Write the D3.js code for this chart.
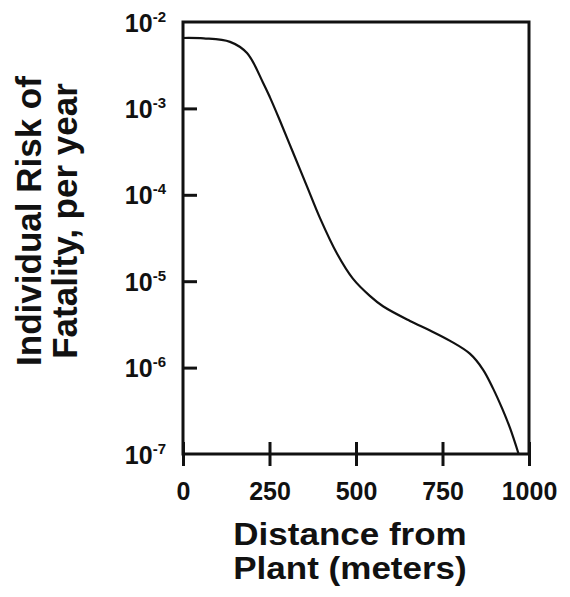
<!DOCTYPE html>
<html>
<head>
<meta charset="utf-8">
<script src="https://cdn.jsdelivr.net/npm/d3@7"></script>
<style>
  body { margin: 0; background: #fff; }
  text { font-family: "Liberation Sans", Arial, sans-serif; font-weight: bold; fill: #111; }
</style>
</head>
<body>
<script>
// values
var distance = [0, 60, 136, 185, 231, 251, 280, 318, 358, 396, 445, 491, 540, 578, 656, 714, 772, 829, 867, 896, 922, 945, 970]
var risk = [6.53e-3, 6.46e-3, 5.89e-3, 4.37e-3, 2.0e-3, 1.35e-3, 7.24e-4, 3.09e-4, 1.26e-4, 5.37e-5, 2.09e-5, 1.07e-5,
  6.76e-6, 5.13e-6, 3.47e-6, 2.69e-6, 2.04e-6, 1.45e-6, 9.5e-7, 5.75e-7, 3.39e-7, 2.0e-7, 1.0e-7]
var xTicks = [0, 250, 500, 750, 1000]
var yTicks = [1e-2, 1e-3, 1e-4, 1e-5, 1e-6, 1e-7]
var yExps = ['-2', '-3', '-4', '-5', '-6', '-7']
var xTitle = ['Distance from', 'Plant (meters)']
var yTitle = ['Individual Risk of', 'Fatality, per year']

var fullWidth = 570
var fullHeight = 597
var margin = { top: 22, right: 40, bottom: 143, left: 183 }

var svg = d3.select('body').append('svg')
  .attr('width', fullWidth)
  .attr('height', fullHeight)

var g = svg.append('g')
  .attr('transform', 'translate(' + margin.left + ',' + margin.top + ')')

var x = d3.scaleLinear().domain([0, 1000]).range([0, 346])
var y = d3.scaleLog().domain([1e-7, 1e-2]).range([432, 0])

// frame
g.append('rect')
  .attr('x', 0).attr('y', 0)
  .attr('width', x(1000)).attr('height', y(1e-7))
  .style('fill', 'none').style('stroke', '#111').style('stroke-width', 3)

// x axis, ticks cross the line
var xAxis = g.append('g')
  .attr('transform', 'translate(0,' + y(1e-7) + ')')
  .call(d3.axisBottom(x).tickValues(xTicks).tickSize(12))
xAxis.select('.domain').remove()
xAxis.selectAll('.tick text').remove()
xAxis.selectAll('.tick line').attr('y1', -12).style('stroke', '#111').style('stroke-width', 3)
xAxis.selectAll('.tick')
  .append('text')
  .attr('y', 46)
  .attr('text-anchor', 'middle')
  .style('font-size', '25px')
  .text((d) => d)

// y axis
var yAxis = g.append('g')
  .call(d3.axisLeft(y).tickValues(yTicks).tickSize(10))
yAxis.select('.domain').remove()
yAxis.selectAll('.tick text').remove()
yAxis.selectAll('.tick line').attr('x2', (d, i) => (i == 0 || i == 5) ? 0 : 14)
  .style('stroke', '#111').style('stroke-width', 3)
var lbl = yAxis.selectAll('.tick')
  .append('text')
  .attr('x', -17)
  .attr('y', 9)
  .attr('text-anchor', 'end')
  .style('font-size', '25px')
lbl.append('tspan').text('10')
lbl.append('tspan')
  .attr('dy', -10)
  .style('font-size', '15px')
  .text((d, i) => yExps[i])

// curve
var line = d3.line()
  .x((d, i) => x(distance[i]))
  .y((d) => y(d))
  .curve(d3.curveCatmullRom.alpha(0.5))

g.append('path')
  .datum(risk)
  .attr('d', line)
  .style('fill', 'none')
  .style('stroke', '#111')
  .style('stroke-width', 2.2)

// axis titles
svg.selectAll('.xtitle')
  .data(xTitle)
  .enter().append('text')
  .attr('transform', (d, i) => 'translate(350,' + (545 + i * 34) + ') scale(1.13,1)')
  .attr('text-anchor', 'middle')
  .style('font-size', '31px')
  .text((d) => d)

svg.selectAll('.ytitle')
  .data(yTitle)
  .enter().append('text')
  .attr('transform', (d, i) => 'translate(' + (41 + i * 36) + ',221) rotate(-90)')
  .attr('text-anchor', 'middle')
  .style('font-size', '35px')
  .text((d) => d)
</script>
</body>
</html>
